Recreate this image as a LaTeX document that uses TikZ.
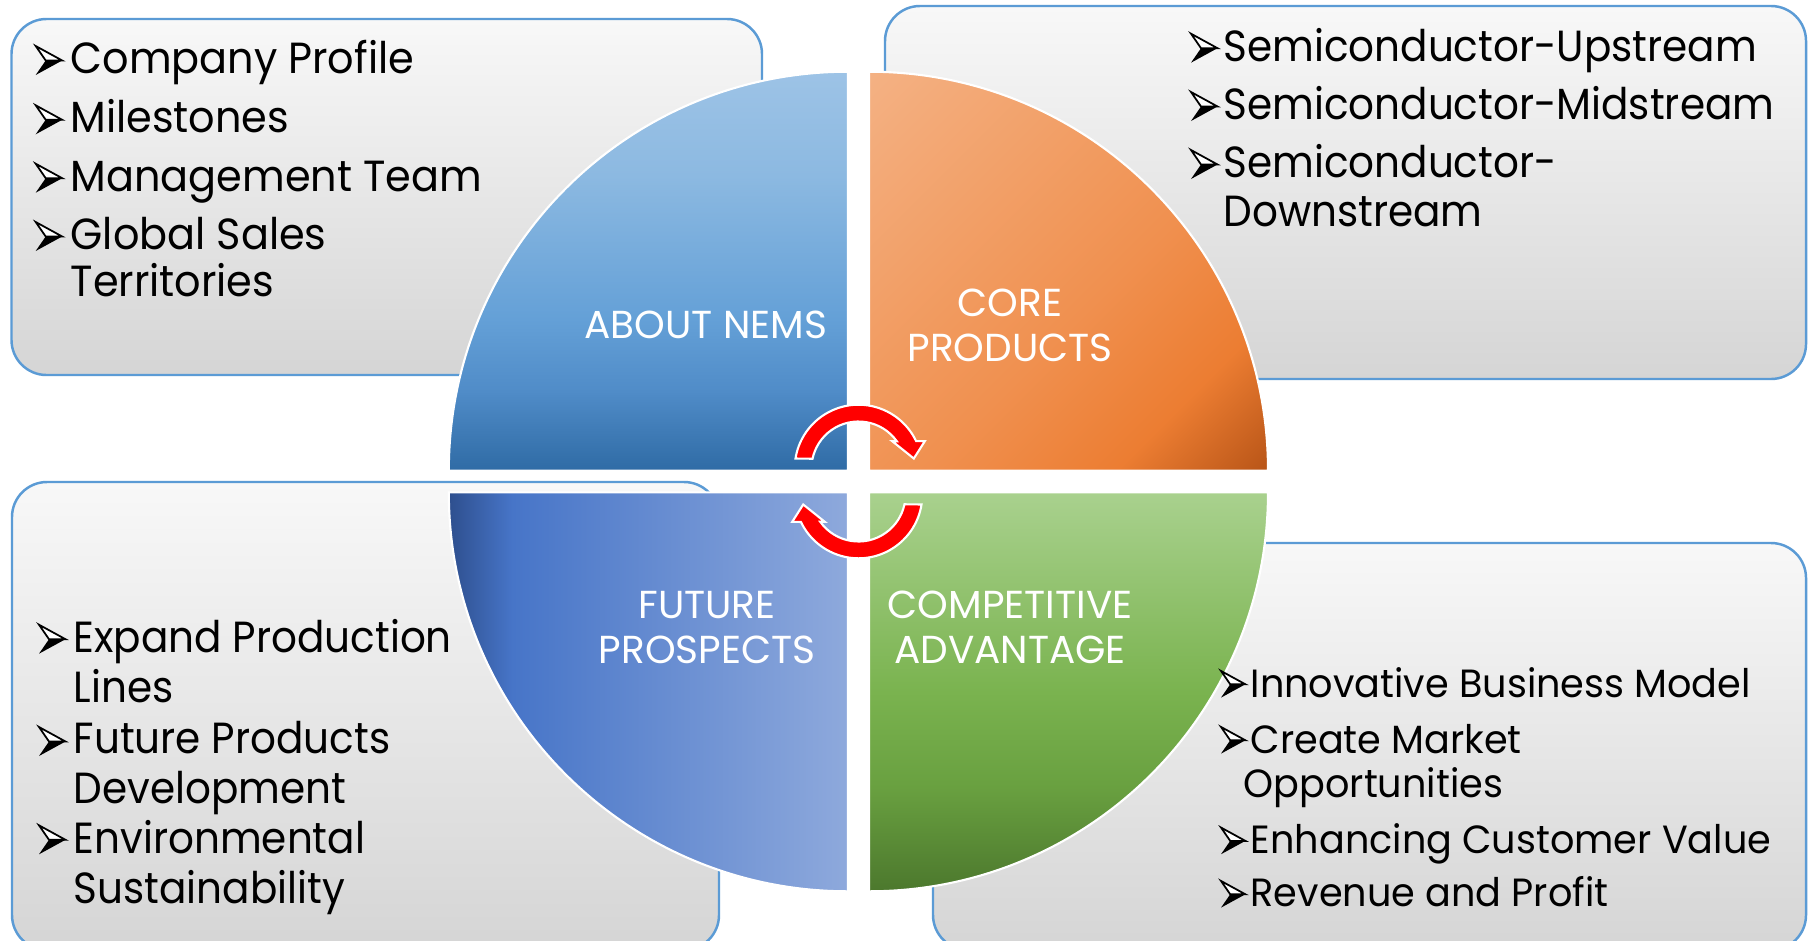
\documentclass[tikz,border=0pt]{standalone}
\usepackage{fontspec}
\setmainfont{Poppins}
\newfontfamily\listfont{Poppins}[FakeStretch=0.93]
\newfontfamily\widelistfont{Poppins}[FakeStretch=0.95]
\newfontfamily\smalllistfont{Poppins}[FakeStretch=0.97]

\definecolor{boxline}{HTML}{5B9BD5}
\definecolor{boxtop}{HTML}{F8F8F8}
\definecolor{boxbot}{HTML}{D5D5D5}
\definecolor{aboutA}{HTML}{2F6BA5}
\definecolor{aboutB}{HTML}{508CC8}
\definecolor{aboutC}{HTML}{64A0D7}
\definecolor{aboutD}{HTML}{8CB9E1}
\definecolor{aboutE}{HTML}{9DC3E6}
\definecolor{coreA}{HTML}{F4B183}
\definecolor{coreB}{HTML}{F0904F}
\definecolor{coreC}{HTML}{EC7D32}
\definecolor{coreD}{HTML}{B65316}
\definecolor{futA}{HTML}{2E4F8E}
\definecolor{futB}{HTML}{4775C8}
\definecolor{futC}{HTML}{8EA9DC}
\definecolor{advA}{HTML}{4C782D}
\definecolor{advB}{HTML}{69A040}
\definecolor{advC}{HTML}{7AB34F}
\definecolor{advD}{HTML}{A9D18E}

\pgfdeclareverticalshading{aboutshade}{100bp}{color(0bp)=(aboutA); color(25bp)=(aboutA); color(35bp)=(aboutB); color(44bp)=(aboutC); color(62bp)=(aboutD); color(75bp)=(aboutE); color(100bp)=(aboutE)}
\pgfdeclarehorizontalshading{coreshade}{100bp}{color(0bp)=(coreA); color(15bp)=(coreA); color(55bp)=(coreB); color(72bp)=(coreC); color(86bp)=(coreD); color(100bp)=(coreD)}
\pgfdeclarehorizontalshading{futureshade}{100bp}{color(0bp)=(futA); color(25bp)=(futA); color(33bp)=(futB); color(75bp)=(futC); color(100bp)=(futC)}
\pgfdeclareverticalshading{advshade}{100bp}{color(0bp)=(advA); color(25bp)=(advA); color(38bp)=(advB); color(50bp)=(advC); color(75bp)=(advD); color(100bp)=(advD)}

\tikzset{
  listbox/.style={draw=boxline, line width=0.7pt, rounded corners=0.35cm, top color=boxtop, bottom color=boxbot},
  quarter/.style={draw=white, line width=0.6pt},
  listtext/.style={anchor=base west, inner sep=0pt, align=left, font=\listfont\fontsize{12.4}{#1}\selectfont},
  qlabel/.style={anchor=base, inner sep=0pt, align=center, text=white, font=\fontsize{11.1}{12.8}\selectfont},
  cyclearrow/.style={fill=red, draw=white, line width=0.6pt},
  bulletmark/.pic={
    \filldraw[fill=white, draw=black, line width=0.5pt, line join=miter] (0,0.28) -- (0.265,0.135) -- (0.10,0.135) -- cycle;
    \fill (0,-0.01) -- (0.265,0.135) -- (0.10,0.135) -- cycle;
  }
}

\begin{document}
\begin{tikzpicture}
\path[use as bounding box, clip] (0,0) rectangle (18.08,9.40);
\fill[white] (0,0) rectangle (18.08,9.40);

% list boxes behind the circle
\shadedraw[listbox] (0.115,5.65) rectangle (7.62,9.21);
\shadedraw[listbox] (8.85,5.61) rectangle (18.06,9.34);
\shadedraw[listbox] (0.12,-0.10) rectangle (7.19,4.58);
\shadedraw[listbox] (9.33,-0.10) rectangle (18.06,3.97);

% four quarters
\coordinate (mid) at (8.585,4.585);
\shadedraw[quarter, shading=aboutshade]
  (8.478,4.693) -- ++(-3.99,0) arc[start angle=180, end angle=90, radius=3.99] -- cycle;
\shadedraw[quarter, shading=coreshade, shading angle=-45]
  (8.69,4.693) -- ++(0,3.99) arc[start angle=90, end angle=0, radius=3.99] -- cycle;
\shadedraw[quarter, shading=futureshade]
  (8.478,4.477) -- ++(-3.99,0) arc[start angle=180, end angle=270, radius=3.99] -- cycle;
\shadedraw[quarter, shading=advshade]
  (8.69,4.477) -- ++(3.99,0) arc[start angle=0, end angle=-90, radius=3.99] -- cycle;

\node[qlabel] (about) at (7.06,6.017) {ABOUT NEMS};
\node[qlabel] (core) at (10.10,5.79) {CORE\\PRODUCTS};
\node[qlabel] (future) at (7.07,2.767) {FUTURE\\PROSPECTS};
\node[qlabel] (advantage) at (10.10,2.767) {COMPETITIVE\\ADVANTAGE};

% item lists, placed by their last line
\node[listtext=13.3pt, font=\widelistfont\fontsize{12.4}{13.3}\selectfont] (aboutlist) at (0.699,6.433)
  {Company Profile\\[3.4pt] Milestones\\[3.4pt] Management Team\\[3.4pt] Global Sales\\ Territories};
\node[listtext=13.9pt] (corelist) at (12.228,7.133) {Semiconductor-Upstream\\[2.7pt]
  Semiconductor-Midstream\\[2.7pt] Semiconductor-\\ Downstream};
\node[listtext=14.25pt] (futurelist) at (0.73,0.367) {Expand Production\\ Lines\\
  Future Products\\ Development\\ Environmental\\ Sustainability};
\node[listtext=12.5pt, font=\smalllistfont\fontsize{11.2}{12.5}\selectfont] (advlist) at (12.50,0.333)
  {Innovative Business Model\\[3.4pt] Create Market\\ \hspace*{-0.07cm}Opportunities\\[3.5pt]
  Enhancing Customer Value\\[2.7pt] Revenue and Profit};

\foreach \y in {8.66,8.067,7.483,6.90} \pic at (0.357,\y) {bulletmark};
\foreach \y in {8.783,8.20,7.62} \pic at (11.91,\y) {bulletmark};
\foreach \y in {2.873,1.85,0.867} \pic at (0.39,\y) {bulletmark};
\foreach \y in {2.433,1.873,0.867,0.333} \pic[scale=0.92] at (12.21,\y) {bulletmark};

% the two round arrows in the middle
\foreach \ang in {0,180}{
\begin{scope}[shift={(mid)}, rotate=\ang, yshift=0.13cm]
  \filldraw[cyclearrow] (171:0.638) arc[start angle=171, end angle=25.5, radius=0.638]
    -- (0.663,0.273) -- (0.553,0.10) -- (0.337,0.273)
    -- (35.5:0.47) arc[start angle=35.5, end angle=168, radius=0.47] -- cycle;
\end{scope}
}
\end{tikzpicture}
\end{document}
